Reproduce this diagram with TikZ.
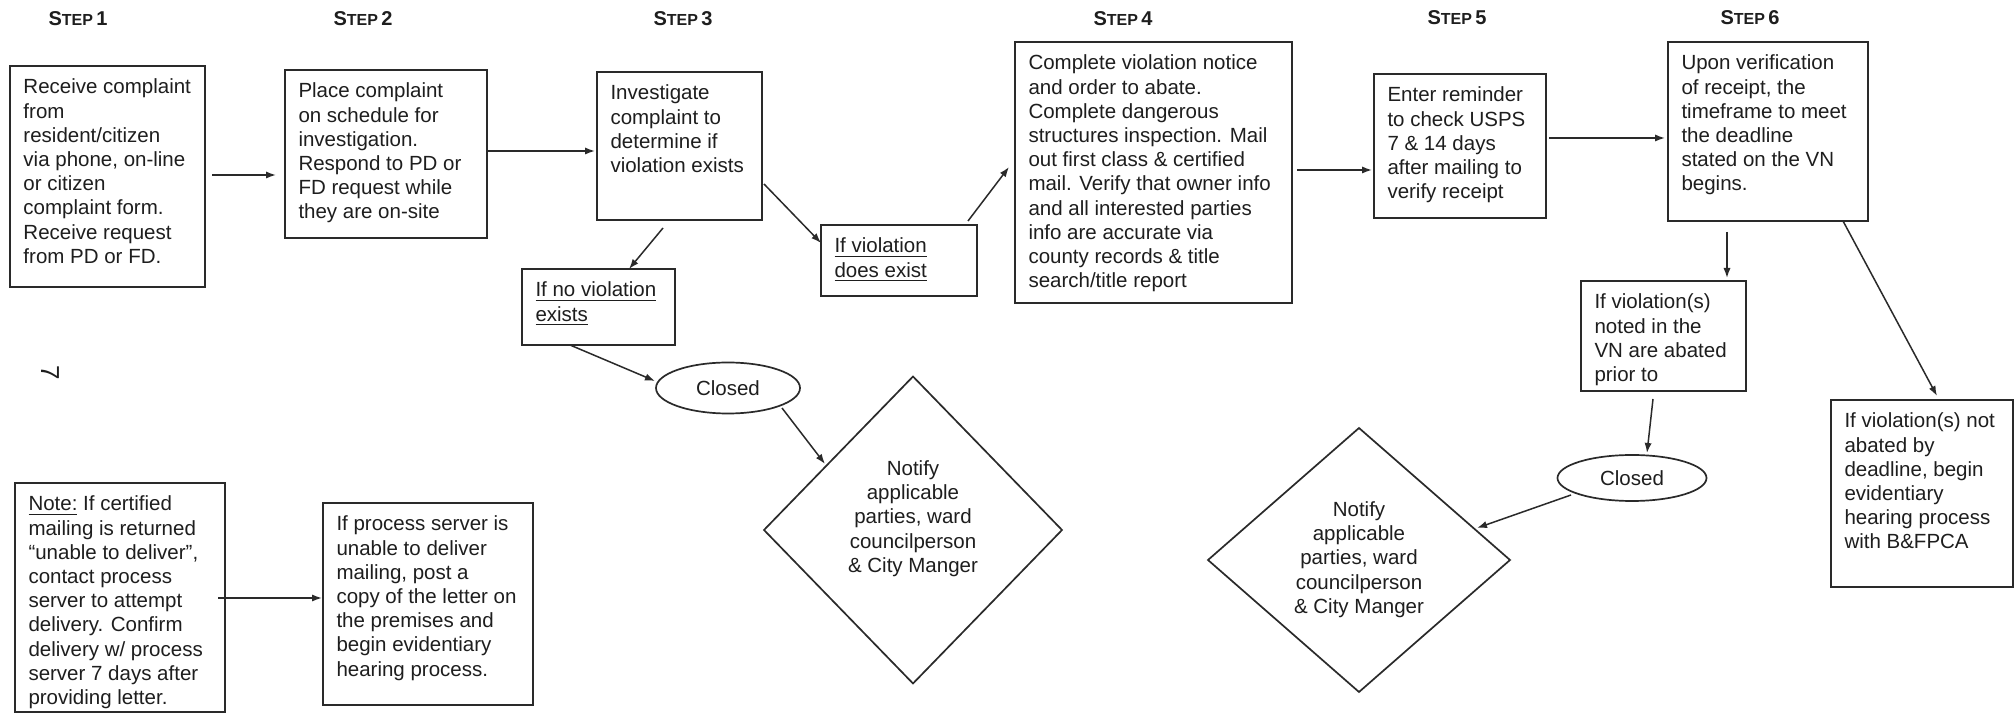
\documentclass[tikz,border=0pt]{standalone}
\usepackage{fontspec}
\setmainfont{Liberation Sans}
\usetikzlibrary{shapes.geometric,arrows.meta,calc}
\definecolor{ink}{HTML}{1E1E1E}
\definecolor{edge}{HTML}{2A2A2A}
\newcommand{\bx}[3]{\parbox[c][#2][t]{#1}{\begin{tabular}[t]{@{}l@{}}#3\end{tabular}}}
\newcommand{\steplabel}[1]{{\bfseries\fontsize{10}{11}\selectfont S{\fontsize{8}{9}\selectfont TEP}\,#1}}
\newcommand{\notifytext}{\begin{tabular}{@{}c@{}}Notify\\applicable\\parties, ward\\councilperson\\\& City Manger\end{tabular}}
\begin{document}
\begin{tikzpicture}[x=0.5pt,y=-0.5pt,
  font=\fontsize{10.25}{12.1}\selectfont,
  box/.style={draw=edge, line width=0.85pt, rectangle, inner xsep=6.75pt, inner ysep=5.5pt, outer sep=0pt, text=ink},
  arr/.style={draw=edge, line width=0.75pt, -{Latex[length=5pt,width=3.6pt]}},
  closedshape/.style={draw=edge, line width=0.85pt, ellipse, inner sep=0pt, outer sep=0pt, text=ink},
  notify/.style={draw=edge, line width=0.85pt, diamond, inner sep=0pt, outer sep=0pt, align=center, text=ink},
  steptitle/.style={inner sep=0pt, text=ink}]
\useasboundingbox (0,0) rectangle (2015,715);
\fill[white] (0,0) rectangle (2015,715);

% step titles
\node[steptitle] (s1) at (78,19) {\steplabel{1}};
\node[steptitle] (s2) at (363,19) {\steplabel{2}};
\node[steptitle] (s3) at (683,19) {\steplabel{3}};
\node[steptitle] (s4) at (1123,19) {\steplabel{4}};
\node[steptitle] (s5) at (1457,18) {\steplabel{5}};
\node[steptitle] (s6) at (1750,18) {\steplabel{6}};

% page number
\node[text=ink, rotate=-90, inner sep=0pt, font=\fontsize{13}{13}\selectfont] (pagenum) at (50,373) {7};

% boxes
\node[box] (b1) at (107.5,176.5) {\bx{84pt}{99.5pt}{Receive complaint\\from\\resident/citizen\\via phone, on-line\\or citizen\\complaint form.\\Receive request\\from PD or FD.}};
\node[box] (b2) at (386,154) {\bx{87.5pt}{73pt}{Place complaint\\on schedule for\\investigation.\\Respond to PD or\\FD request while\\they are on-site}};
\node[box] (b3) at (679.5,146) {\bx{69pt}{63pt}{Investigate\\complaint to\\determine if\\violation exists}};
\node[box] (nv) at (598.5,307) {\bx{63pt}{27pt}{\underline{If no violation}\\\underline{exists}}};
\node[box] (de) at (899,260.5) {\bx{64.5pt}{24.5pt}{\underline{If violation}\\\underline{does exist}}};
\node[box] (b4) at (1153.5,172.5) {\bx{125pt}{119.5pt}{Complete violation notice\\and order to abate.\\Complete dangerous\\structures inspection. Mail\\out first class \& certified\\mail. Verify that owner info\\and all interested parties\\info are accurate via\\county records \& title\\search/title report}};
\node[box] (b5) at (1460,146) {\bx{72.5pt}{61pt}{Enter reminder\\to check USPS\\7 \& 14 days\\after mailing to\\verify receipt}};
\node[box] (b6) at (1768,131.5) {\bx{86.5pt}{78.5pt}{Upon verification\\of receipt, the\\timeframe to meet\\the deadline\\stated on the VN\\begins.}};
\node[box] (ab) at (1663.5,336) {\bx{69pt}{44pt}{If violation(s)\\noted in the\\VN are abated\\prior to}};
\node[box] (na) at (1922,493.5) {\bx{77.5pt}{82.5pt}{If violation(s) not\\abated by\\deadline, begin\\evidentiary\\hearing process\\with B\&FPCA}};
\node[box] (note) at (120,597.5) {\bx{91.5pt}{103.5pt}{\underline{Note:} If certified\\mailing is returned\\“unable to deliver”,\\contact process\\server to attempt\\delivery. Confirm\\delivery w/ process\\server 7 days after\\providing letter.}};
\node[box] (ps) at (428,604) {\bx{91.5pt}{90pt}{If process server is\\unable to deliver\\mailing, post a\\copy of the letter on\\the premises and\\begin evidentiary\\hearing process.}};

% closed ellipses
\node[closedshape, minimum width=72pt, minimum height=25.5pt] (cl1) at (728,388) {Closed};
\node[closedshape, minimum width=74.5pt, minimum height=23pt] (cl2) at (1632,478) {Closed};

% notify diamonds
\node[notify, minimum width=149pt, minimum height=153.5pt] (d1) at (913,530) {\raisebox{0pt}[\height][\dimexpr\depth+11pt\relax]{\notifytext}};
\node[notify, minimum width=151pt, minimum height=132pt] (d2) at (1359,560) {\notifytext};

% connectors
\draw[arr] ($(b1.east)+(7,-1.5)$) -- ($(b2.west|-b1.east)+(-9,-1.5)$);
\draw[arr] ($(b2.east)+(0,-3)$) -- ($(b3.west)+(-2,5)$);
\draw[arr] ($(b3.south)+(-16.5,8)$) -- ($(nv.north)+(30.5,0)$);
\draw[arr] ($(b3.east)+(2,38)$) -- ($(de.west)+(0,-17.5)$);
\draw[arr] ($(de.north)+(69,-4)$) -- ($(b4.west)+(-6,-5.5)$);
\draw[arr] ($(b4.east)+(5,-2.5)$) -- ($(b5.west)+(-2,24)$);
\draw[arr] ($(b5.east)+(3,-8)$) -- ($(b6.west)+(-3,6.5)$);
\draw[arr] ($(b6.south)+(-41,11)$) -- ($(ab.north)+(63.5,-3)$);
\draw[arr] ($(b6.south)+(75,0)$) -- ($(na.north)+(15,-4)$);
\draw[arr] ($(ab.south)+(-10.5,8)$) -- ($(cl2.north)+(15,-2)$);
\draw[arr] ($(cl2.center)+(-61,17)$) -- ($(d2.center)+(118,-32)$);
\draw[arr] ($(nv.south)+(-28.5,0)$) -- ($(cl1.west)+(-1,-7)$);
\draw[arr] ($(cl1.center)+(54,20)$) -- ($(d1.center)+(-88,-66)$);
\draw[arr] ($(note.east)+(-7,0.5)$) -- ($(ps.west)+(-1,-6)$);
\end{tikzpicture}
\end{document}
